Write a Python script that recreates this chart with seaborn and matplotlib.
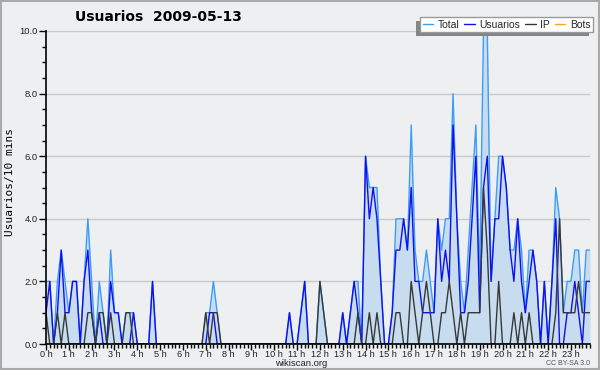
import matplotlib
matplotlib.use("Agg")
import numpy as np
import pandas as pd
import matplotlib.pyplot as plt
import seaborn as sns
from matplotlib.patches import Rectangle
from matplotlib.ticker import MultipleLocator, FixedLocator

# ---------------- data (10-minute slots, 144 per day) ----------------
title_text = "Usuarios  2009-05-13"
hour_labels = [f"{h} h" for h in range(24)]
series_names = ["Total", "Usuarios", "IP", "Bots"]

total = [
    2, 2, 0, 2, 3, 2, 1, 2, 2, 0, 2, 4,
    2, 0, 2, 1, 0, 3, 1, 1, 0, 1, 1, 1,
    0, 0, 0, 0, 2, 0, 0, 0, 0, 0, 0, 0,
    0, 0, 0, 0, 0, 0, 1, 1, 2, 1, 0, 0,
    0, 0, 0, 0, 0, 0, 0, 0, 0, 0, 0, 0,
    0, 0, 0, 0, 1, 0, 0, 1, 2, 0, 0, 0,
    2, 1, 0, 0, 0, 0, 1, 0, 1, 2, 2, 0,
    6, 5, 5, 5, 2, 0, 0, 1, 4, 4, 4, 3,
    7, 3, 2, 2, 3, 2, 1, 4, 3, 4, 4, 8,
    4, 2, 1, 3, 5, 7, 2, 10, 10, 2, 4, 6,
    6, 5, 3, 3, 4, 3, 1, 3, 3, 2, 0, 2,
    0, 2, 5, 4, 1, 2, 2, 3, 3, 1, 3, 3,
]
usuarios = [
    1, 2, 0, 1, 3, 1, 1, 2, 2, 0, 2, 3,
    1, 0, 1, 0, 0, 2, 1, 1, 0, 0, 0, 1,
    0, 0, 0, 0, 2, 0, 0, 0, 0, 0, 0, 0,
    0, 0, 0, 0, 0, 0, 0, 1, 1, 0, 0, 0,
    0, 0, 0, 0, 0, 0, 0, 0, 0, 0, 0, 0,
    0, 0, 0, 0, 1, 0, 0, 1, 2, 0, 0, 0,
    0, 0, 0, 0, 0, 0, 1, 0, 1, 2, 1, 0,
    6, 4, 5, 4, 2, 0, 0, 1, 3, 3, 4, 3,
    5, 2, 2, 1, 1, 1, 1, 4, 2, 3, 2, 7,
    4, 1, 1, 2, 4, 6, 1, 5, 6, 2, 4, 4,
    6, 5, 3, 2, 4, 2, 1, 2, 3, 2, 0, 2,
    0, 2, 4, 0, 0, 1, 1, 2, 1, 0, 2, 2,
]
ip = [
    1, 0, 0, 1, 0, 1, 0, 0, 0, 0, 0, 1,
    1, 0, 1, 1, 0, 1, 0, 0, 0, 1, 1, 0,
    0, 0, 0, 0, 0, 0, 0, 0, 0, 0, 0, 0,
    0, 0, 0, 0, 0, 0, 1, 0, 1, 1, 0, 0,
    0, 0, 0, 0, 0, 0, 0, 0, 0, 0, 0, 0,
    0, 0, 0, 0, 0, 0, 0, 0, 0, 0, 0, 0,
    2, 1, 0, 0, 0, 0, 0, 0, 0, 0, 1, 0,
    0, 1, 0, 1, 0, 0, 0, 0, 1, 1, 0, 0,
    2, 1, 0, 1, 2, 1, 0, 0, 1, 1, 2, 1,
    0, 1, 0, 1, 1, 1, 1, 5, 3, 0, 0, 2,
    0, 0, 0, 1, 0, 1, 0, 1, 0, 0, 0, 0,
    0, 0, 1, 4, 1, 1, 1, 1, 2, 1, 1, 1,
]
bots = [
    0, 0, 0, 0, 0, 0, 0, 0, 0, 0, 0, 0,
    0, 0, 0, 0, 0, 0, 0, 0, 0, 0, 0, 0,
    0, 0, 0, 0, 0, 0, 0, 0, 0, 0, 0, 0,
    0, 0, 0, 0, 0, 0, 0, 0, 0, 0, 0, 0,
    0, 0, 0, 0, 0, 0, 0, 0, 0, 0, 0, 0,
    0, 0, 0, 0, 0, 0, 0, 0, 0, 0, 0, 0,
    0, 0, 0, 0, 0, 0, 0, 0, 0, 0, 0, 0,
    0, 0, 0, 0, 0, 0, 0, 0, 0, 0, 0, 0,
    0, 0, 0, 0, 0, 0, 0, 0, 0, 0, 0, 0,
    0, 0, 0, 0, 0, 0, 0, 0, 0, 0, 0, 0,
    0, 0, 0, 0, 0, 0, 0, 0, 0, 0, 0, 0,
    0, 0, 0, 0, 0, 0, 0, 0, 0, 0, 0, 0,
]

slot = np.arange(len(total))
df = pd.DataFrame({"slot": slot, "Total": total, "Usuarios": usuarios,
                   "IP": ip, "Bots": bots})

# ---------------- style ----------------
BG = "#eeeff1"
sns.set_style("white", {"axes.facecolor": BG, "figure.facecolor": BG})
plt.rcParams["font.family"] = ["Liberation Sans", "DejaVu Sans"]

c_total = "#3d9df5"
c_users = "#1010f0"
c_ip = "#383838"
c_bots = "#ffa31a"
c_fill = "#c7dcef"
c_shadow = "#858585"

fig = plt.figure(figsize=(6.0, 3.7), dpi=100)
fig.patch.set_facecolor(BG)
ax = fig.add_axes([46 / 600, 1 - 344 / 370, (590 - 46) / 600, (344 - 31) / 370])
ax.set_facecolor(BG)

ax.fill_between(df["slot"], df["Total"], 0, color=c_fill, linewidth=0, zorder=1)
lw = 1.0
sns.lineplot(data=df, x="slot", y="Bots", ax=ax, color=c_bots, linewidth=lw, zorder=2)
sns.lineplot(data=df, x="slot", y="Total", ax=ax, color=c_total, linewidth=lw, zorder=3)
sns.lineplot(data=df, x="slot", y="Usuarios", ax=ax, color=c_users, linewidth=lw, zorder=4)
sns.lineplot(data=df, x="slot", y="IP", ax=ax, color=c_ip, linewidth=lw, zorder=5)

ax.set_xlim(0, len(total) - 1)
ax.set_ylim(0, 10)
ax.set_xlabel("")
ax.set_ylabel("")

# grid
for v in [2, 4, 6, 8, 10]:
    ax.axhline(v, color="#c9c9cb", linewidth=1.0, zorder=0.5)

# spines
for s in ["top", "right"]:
    ax.spines[s].set_visible(False)
for s in ["left", "bottom"]:
    ax.spines[s].set_color("black")
    ax.spines[s].set_linewidth(1.2)
    ax.spines[s].set_zorder(6)

# ticks
ax.xaxis.set_major_locator(FixedLocator(list(range(0, 144, 6))))
ax.set_xticklabels(hour_labels)
ax.xaxis.set_minor_locator(MultipleLocator(1))
ax.yaxis.set_major_locator(MultipleLocator(2))
ax.yaxis.set_minor_locator(MultipleLocator(0.5))
ax.set_yticklabels([f"{v:.1f}" for v in ax.get_yticks()])
ax.tick_params(axis="x", which="major", length=4, width=1, color="black",
               labelsize=6.6, pad=0.3, labelcolor="#222222", direction="out", bottom=True)
ax.tick_params(axis="x", which="minor", length=3, width=1, color="black", bottom=True)
ax.tick_params(axis="y", which="major", length=5, width=1, color="black",
               labelsize=6.8, pad=1, labelcolor="#222222", direction="out", left=True)
ax.tick_params(axis="y", which="minor", length=3, width=1, color="black", left=True)

# texts
fig.text(75 / 600, 1 - 17 / 370, title_text, fontsize=10, fontweight="bold",
         family="DejaVu Sans", ha="left", va="center", color="black")
fig.text(10 / 600, 1 - 182 / 370, "Usuarios/10 mins", rotation=90,
         fontsize=8, family="DejaVu Sans Mono", ha="center", va="center", color="black")
fig.text(301 / 600, 1 - 363.5 / 370, "wikiscan.org", fontsize=6.8,
         ha="center", va="center", color="#222222")
fig.text(590 / 600, 1 - 363.5 / 370, "CC BY-SA 3.0", fontsize=5,
         ha="right", va="center", color="#555555")

# legend
handles = [plt.Line2D([], [], color=c, linewidth=1.0)
           for c in [c_total, c_users, c_ip, c_bots]]
leg = fig.legend(handles, series_names, loc="upper right",
                 bbox_to_anchor=(593 / 600, 1 - 17 / 370), ncol=4,
                 frameon=True, fancybox=False, framealpha=1,
                 facecolor="white", edgecolor="#9a9a9a", fontsize=7.5,
                 handlelength=1.0, handletextpad=0.45, columnspacing=0.45,
                 borderpad=0.25, borderaxespad=0)
leg.set_zorder(10)
leg.get_frame().set_linewidth(1.0)

# drop shadow (offset left and down) behind the legend box
fig.canvas.draw()
renderer = fig.canvas.get_renderer()
bb = leg.get_frame().get_window_extent(renderer)
W, H = fig.bbox.width, fig.bbox.height
shadow = Rectangle(((bb.x0 - 4) / W, (bb.y0 - 4) / H), bb.width / W, bb.height / H,
                   transform=fig.transFigure, facecolor=c_shadow,
                   edgecolor="none", zorder=9)
fig.patches.append(shadow)

# outer frame
frame = Rectangle((0.0015, 0.0025), 0.997, 0.995, transform=fig.transFigure,
                  facecolor="none", edgecolor="#aaaaaa", linewidth=1.5, zorder=20)
fig.patches.append(frame)

fig.savefig("out.png", dpi=100, facecolor=BG)
